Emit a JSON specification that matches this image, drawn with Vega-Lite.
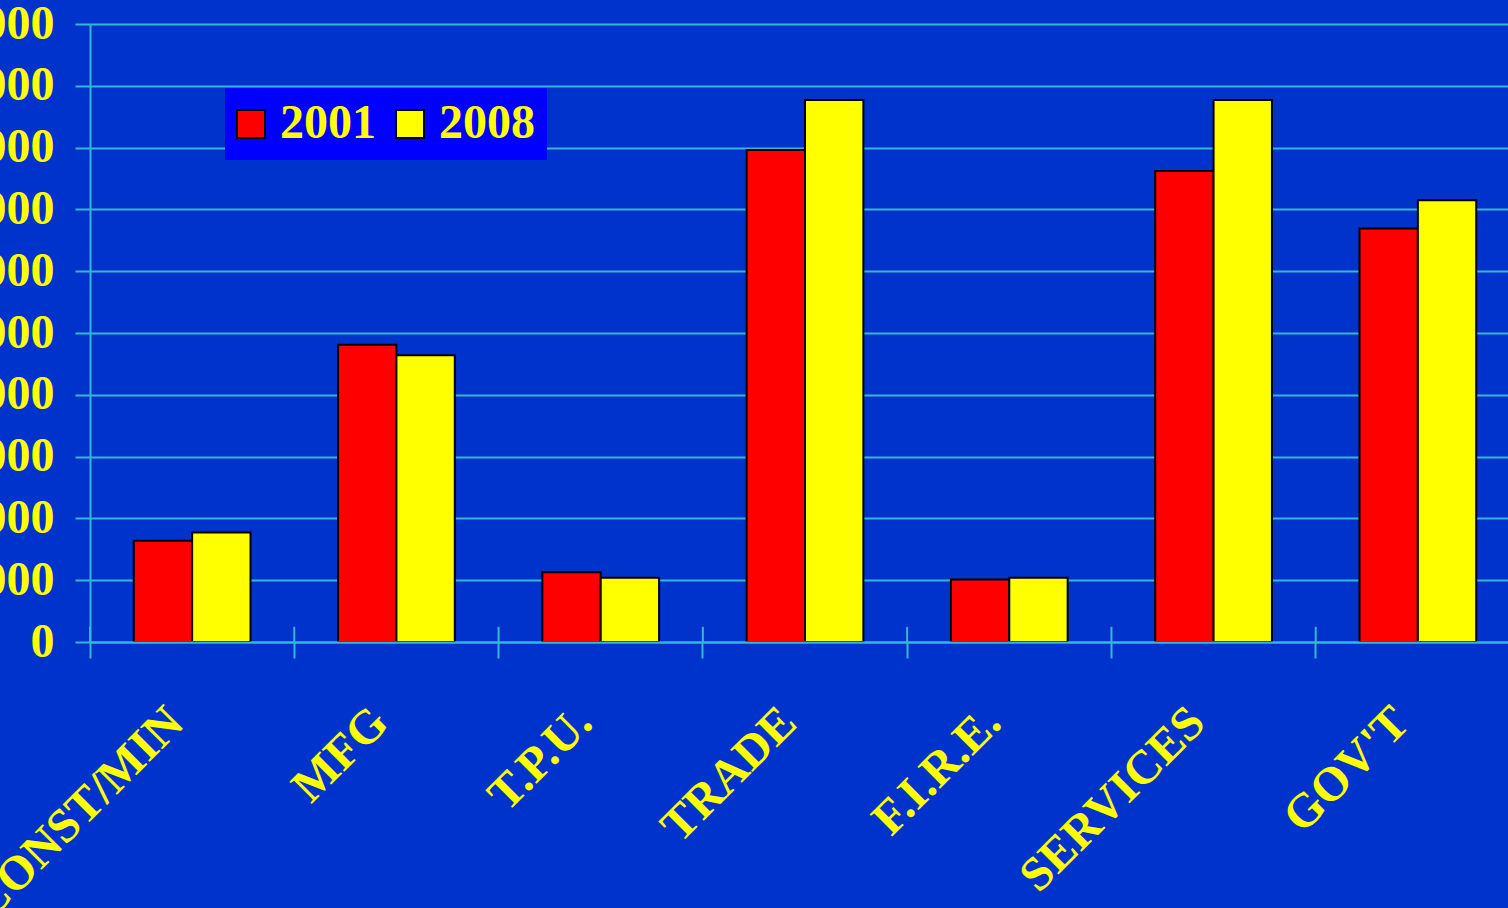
{
  "$schema": "https://vega.github.io/schema/vega-lite/v6.json",
  "width": 1418,
  "height": 618,
  "autosize": {"type": "none"},
  "padding": {"left": 90, "top": 24, "right": 0, "bottom": 266},
  "background": "#0033CC",
  "config": {"view": {"stroke": null}, "font": "Liberation Serif"},
  "data": {
    "values": [
      {"sector": "CONST/MIN", "year": "2001", "jobs": 1640},
      {"sector": "CONST/MIN", "year": "2008", "jobs": 1770},
      {"sector": "MFG", "year": "2001", "jobs": 4810},
      {"sector": "MFG", "year": "2008", "jobs": 4640},
      {"sector": "T.P.U.", "year": "2001", "jobs": 1130},
      {"sector": "T.P.U.", "year": "2008", "jobs": 1040},
      {"sector": "TRADE", "year": "2001", "jobs": 7960},
      {"sector": "TRADE", "year": "2008", "jobs": 8770},
      {"sector": "F.I.R.E.", "year": "2001", "jobs": 1010},
      {"sector": "F.I.R.E.", "year": "2008", "jobs": 1040},
      {"sector": "SERVICES", "year": "2001", "jobs": 7620},
      {"sector": "SERVICES", "year": "2008", "jobs": 8770},
      {"sector": "GOV'T", "year": "2001", "jobs": 6690},
      {"sector": "GOV'T", "year": "2008", "jobs": 7150}
    ]
  },
  "layer": [
    {
      "mark": {"type": "bar", "stroke": "black", "strokeWidth": 2},
      "encoding": {
        "x": {
          "field": "sector",
          "type": "nominal",
          "sort": ["CONST/MIN", "MFG", "T.P.U.", "TRADE", "F.I.R.E.", "SERVICES", "GOV'T"],
          "scale": {"range": [0, 1430], "paddingInner": 0, "paddingOuter": 0},
          "axis": {
            "title": null,
            "bandPosition": 0,
            "labelAngle": -45,
            "labelAlign": "right",
            "labelBaseline": "top",
            "labelFontSize": 48,
            "labelFontWeight": "bold",
            "labelColor": "#FFFF00",
            "labelPadding": 40,
            "labelOffset": -33,
            "labelLimit": 600,
            "labelOverlap": false,
            "tickSize": 16,
            "tickColor": "#38B6D6",
            "tickWidth": 2,
            "domainColor": "#38B6D6",
            "domainWidth": 2,
            "zindex": 1
          }
        },
        "xOffset": {
          "field": "year",
          "type": "nominal",
          "scale": {"paddingInner": 0, "paddingOuter": 0.75}
        },
        "y": {
          "field": "jobs",
          "type": "quantitative",
          "scale": {"domain": [0, 10000], "nice": false},
          "axis": {
            "title": null,
            "values": [0, 1000, 2000, 3000, 4000, 5000, 6000, 7000, 8000, 9000, 10000],
            "format": "d",
            "labelFontSize": 48,
            "labelFontWeight": "bold",
            "labelColor": "#FFFF00",
            "labelPadding": 21,
            "tickSize": 15,
            "tickColor": "#38B6D6",
            "tickWidth": 2,
            "grid": true,
            "gridColor": "#38B6D6",
            "gridWidth": 2,
            "gridOpacity": 1,
            "domainColor": "#38B6D6",
            "domainWidth": 2
          }
        },
        "color": {
          "field": "year",
          "type": "nominal",
          "scale": {"domain": ["2001", "2008"], "range": ["#FF0000", "#FFFF00"]},
          "legend": {
            "title": null,
            "orient": "none",
            "legendX": 135,
            "legendY": 64,
            "direction": "horizontal",
            "fillColor": "#0000FF",
            "padding": 12,
            "symbolType": "square",
            "symbolSize": 784,
            "symbolOffset": -10,
            "symbolStrokeColor": "black",
            "symbolStrokeWidth": 2,
            "symbolOpacity": 1,
            "labelFontSize": 48,
            "labelFontWeight": "bold",
            "labelColor": "#FFFF00",
            "labelOffset": 5,
            "columnPadding": 16
          }
        }
      }
    },
    {
      "data": {
        "values": [
          {"sector": "CONST/MIN"}, {"sector": "MFG"}, {"sector": "T.P.U."},
          {"sector": "TRADE"}, {"sector": "F.I.R.E."}, {"sector": "SERVICES"}, {"sector": "GOV'T"}
        ]
      },
      "mark": {"type": "rule", "color": "#38B6D6", "strokeWidth": 2},
      "encoding": {
        "x": {
          "field": "sector",
          "type": "nominal",
          "bandPosition": 0,
          "sort": ["CONST/MIN", "MFG", "T.P.U.", "TRADE", "F.I.R.E.", "SERVICES", "GOV'T"]
        },
        "y": {"datum": 0},
        "y2": {"datum": 245}
      }
    }
  ]
}
